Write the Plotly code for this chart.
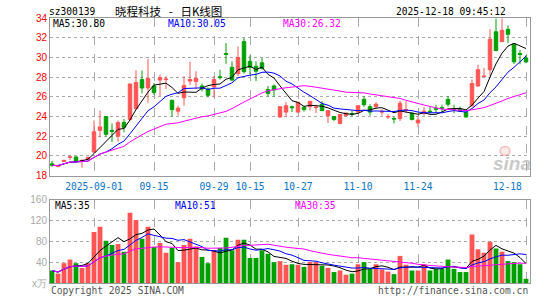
import pandas as pd
import plotly.graph_objects as go

# ---------------- data ----------------
dates = (
    ["2025-08-21", "2025-08-22", "2025-08-25", "2025-08-26", "2025-08-27", "2025-08-28", "2025-08-29"]
    + ["2025-09-%02d" % d for d in [1, 2, 3, 4, 5, 8, 9, 10, 11, 12, 15, 16, 17, 18, 19, 22, 23, 24, 25, 26, 29, 30]]
    + ["2025-10-%02d" % d for d in [9, 10, 13, 14, 15, 16, 17, 20, 21, 22, 23, 24, 27, 28, 29, 30, 31]]
    + ["2025-11-%02d" % d for d in [3, 4, 5, 6, 7, 10, 11, 12, 13, 14, 17, 18, 19, 20, 21, 24, 25, 26, 27, 28]]
    + ["2025-12-%02d" % d for d in [1, 2, 3, 4, 5, 8, 9, 10, 11, 12, 15, 16, 17, 18]]
)

opens = [19.2, 18.95, 19.45, 19.85, 19.9, 19.45, 19.65,
         20.4, 22.6, 24.0, 22.6, 22.0, 23.4, 23.7, 24.8, 27.75, 26.9,
         27.1, 27.7, 27.75, 25.65, 24.55, 25.9, 27.6, 27.55, 27.1, 26.8,
         27.0, 28.05, 30.4, 29.0, 28.35, 31.6, 29.6, 29.1, 29.45, 26.75,
         27.1, 23.95, 24.45, 25.0, 24.45, 24.95, 25.0, 24.9, 25.25, 24.1,
         24.0, 23.3, 24.1, 24.3, 24.45, 25.75, 25.0, 25.0, 24.45, 23.95,
         23.8, 23.8, 24.65, 24.35, 23.35, 24.3, 24.55, 24.8, 24.9, 25.75,
         24.8, 24.75, 24.45, 25.1, 27.1, 28.05, 28.75, 32.6, 31.6, 32.85,
         31.35, 30.4, 29.95]
highs = [19.5, 19.1, 19.6, 20.1, 19.95, 19.65, 19.95,
         23.6, 24.6, 24.0, 23.3, 23.6, 23.75, 27.35, 28.7, 28.67, 29.85,
         27.4, 28.25, 28.1, 25.7, 25.1, 28.1, 29.55, 28.6, 27.35, 26.95,
         28.1, 28.75, 31.45, 29.6, 31.1, 32.0, 30.2, 29.6, 29.95, 27.1,
         27.25, 25.0, 25.45, 25.1, 25.45, 25.0, 25.55, 25.2, 25.55, 24.6,
         24.05, 24.2, 24.4, 24.6, 25.1, 26.1, 25.25, 25.45, 24.75, 24.25,
         24.0, 25.6, 25.55, 24.4, 23.95, 24.95, 24.95, 25.2, 25.2, 26.1,
         25.2, 25.0, 24.5, 27.75, 29.25, 28.95, 32.85, 33.95, 33.95, 33.25,
         31.45, 30.75, 30.25]
lows = [18.9, 18.85, 19.4, 19.6, 19.35, 18.8, 19.55,
        20.3, 21.9, 21.95, 21.4, 21.45, 22.4, 23.6, 24.7, 26.35, 25.4,
        26.2, 26.1, 26.8, 24.0, 24.1, 25.1, 27.2, 26.8, 26.55, 25.95,
        25.95, 27.75, 29.35, 27.6, 28.1, 28.35, 28.3, 27.6, 28.75, 26.0,
        26.0, 23.9, 23.95, 24.45, 24.4, 24.5, 24.6, 24.35, 24.55, 23.35,
        23.55, 23.2, 24.0, 24.0, 24.4, 25.0, 24.1, 24.8, 24.1, 23.75,
        23.3, 23.55, 24.35, 23.6, 22.95, 24.1, 24.3, 24.35, 24.45, 25.0,
        24.35, 24.5, 23.9, 25.0, 27.0, 28.05, 28.1, 30.6, 31.6, 31.45,
        29.35, 29.3, 29.45]
closes = [19.05, 19.0, 19.55, 19.9, 19.45, 19.55, 19.85,
          22.45, 22.95, 22.2, 22.5, 23.4, 22.9, 27.3, 27.45, 26.9, 27.85,
          26.45, 27.95, 27.8, 24.7, 24.85, 27.15, 27.75, 27.85, 26.8, 26.15,
          27.75, 27.95, 30.3, 27.7, 30.0, 28.55, 29.0, 28.6, 28.9, 26.35,
          26.7, 25.0, 25.1, 24.9, 25.45, 24.7, 25.55, 24.95, 24.6, 24.6,
          23.7, 24.2, 24.35, 24.25, 25.1, 25.2, 24.45, 25.25, 24.5, 24.0,
          23.75, 25.35, 24.7, 23.7, 23.65, 24.55, 24.5, 24.75, 24.85, 25.25,
          24.75, 24.55, 23.95, 27.35, 28.75, 28.1, 31.85, 30.7, 32.75, 32.35,
          29.55, 30.3, 29.55]
volumes = [24, 18, 38, 45, 38, 29, 38,
           98, 108, 81, 73, 75, 60, 135, 121, 85, 108,
           69, 77, 58, 67, 40, 73, 85, 70, 50, 38,
           63, 67, 87, 63, 83, 83, 48, 48, 63, 56,
           40, 42, 35, 36, 35, 31, 40, 40, 33, 29,
           21, 24, 16, 18, 36, 40, 27, 36, 26, 22,
           17, 52, 35, 24, 24, 36, 24, 27, 27, 45,
           27, 21, 21, 93, 65, 58, 79, 66, 60, 42,
           40, 36, 8]

tick_dates = ["2025-09-01", "2025-09-15", "2025-09-29", "2025-10-15",
              "2025-10-27", "2025-11-10", "2025-11-24", "2025-12-18"]
tick_labels = ["2025-09-01", "09-15", "09-29", "10-15", "10-27", "11-10", "11-24", "12-18"]
price_ticks = [18, 20, 22, 24, 26, 28, 30, 32, 34]
vol_ticks = [0, 40, 80, 120, 160]
vol_tick_labels = ["x万", "40", "80", "120", "160"]

title_code = "sz300139"
title_name = "晓程科技\u00a0\u00a0\u00a0-\u00a0\u00a0\u00a0日K线图"
timestamp = "2025-12-18 09:45:12"
ma_price_labels = ["MA5:30.80", "MA10:30.05", "MA30:26.32"]
ma_vol_labels = ["MA5:35", "MA10:51", "MA30:35"]

# ---------------- derived ----------------
idx = list(range(len(dates)))
cs = pd.Series(closes)
vs = pd.Series(volumes)
ma_cols = ["#000000", "#0000ff", "#ff00ff"]
ma_n = [5, 10, 30]
RED = "#ff5555"
GREEN = "#00a000"
vol_colors = [RED if c >= o else GREEN for o, c in zip(opens, closes)]
tick_idx = [dates.index(d) for d in tick_dates]

MONO = "DejaVu Sans Mono"

fig = go.Figure()
fig.add_trace(go.Candlestick(
    x=idx, open=opens, high=highs, low=lows, close=closes,
    increasing=dict(line=dict(color=RED, width=1), fillcolor=RED),
    decreasing=dict(line=dict(color=GREEN, width=1), fillcolor=GREEN),
    whiskerwidth=0, xaxis="x", yaxis="y", hoverinfo="skip", showlegend=False))
for n, col in zip(ma_n, ma_cols):
    fig.add_trace(go.Scatter(x=idx, y=cs.rolling(n, min_periods=1).mean(), mode="lines",
                             line=dict(color=col, width=1), xaxis="x", yaxis="y",
                             hoverinfo="skip", showlegend=False))

fig.add_trace(go.Bar(x=idx, y=volumes, marker=dict(color=vol_colors, line=dict(width=0)),
                     width=0.8, xaxis="x2", yaxis="y2", hoverinfo="skip", showlegend=False))
for n, col in zip(ma_n, ma_cols):
    fig.add_trace(go.Scatter(x=idx, y=vs.rolling(n, min_periods=1).mean(), mode="lines",
                             line=dict(color=col, width=1), xaxis="x2", yaxis="y2",
                             hoverinfo="skip", showlegend=False))

xr = [-1 / 3, len(dates) - 1 + 2 / 3]
grid_common = dict(showgrid=True, gridcolor="#aaaaaa", gridwidth=1, zeroline=False,
                   showline=True, linecolor="#999999", linewidth=1, mirror=True)

fig.update_layout(
    width=545, height=300,
    margin=dict(l=50, r=15, t=18, b=14),
    paper_bgcolor="white", plot_bgcolor="white",
    boxgap=0.17,
    bargap=0.2,
    showlegend=False,
    xaxis=dict(domain=[0, 1], range=xr, anchor="y", tickvals=tick_idx,
               ticktext=tick_labels[:-1] + [""], ticks="", griddash="dash",
               ticklabelstandoff=2,
               tickfont=dict(family=MONO, size=9.6, color="#0a74c8"),
               rangeslider=dict(visible=False), **grid_common),
    yaxis=dict(domain=[0.405, 1.0], range=[18, 34], tickvals=price_ticks, ticks="",
               griddash="dot", tickfont=dict(family="Liberation Sans", size=10, color="#ff0000"),
               **grid_common),
    xaxis2=dict(domain=[0, 1], range=xr, anchor="y2", matches="x", tickvals=tick_idx,
                showticklabels=False, ticks="", griddash="dash", **grid_common),
    yaxis2=dict(domain=[0, 0.3146], range=[0, 160], tickvals=vol_ticks,
                ticktext=vol_tick_labels, ticks="", griddash="dot",
                tickfont=dict(family="Liberation Sans", size=10, color="#aaaaaa"),
                **grid_common),
)

def ann(text, x, y, xanchor="left", color="#000000", size=9.6, family=MONO, xref="paper", **kw):
    fig.add_annotation(text=text, x=x, y=y, xref=xref, yref="paper", xanchor=xanchor,
                       yanchor="middle", showarrow=False,
                       font=dict(family=family, size=size, color=color), **kw)

def px_x(p):
    return (p - 50) / 480.0

def px_y(p):
    return (286 - p) / 268.0

ann(title_code, px_x(47), px_y(11))
ann(title_name, px_x(113), px_y(10.5), family="Noto Sans CJK SC", size=11.5)
ann(timestamp, px_x(508), px_y(11), xanchor="right")

for lab, col, xp in zip(ma_price_labels, ma_cols, [51, 166, 281]):
    ann(lab, px_x(xp), px_y(23.5), color=col)
for lab, col, xp in zip(ma_vol_labels, ma_cols, [53, 173, 293]):
    ann(lab, px_x(xp), px_y(207.5), color=col)

# last date label kept inside the plot edge
ann(tick_labels[-1], tick_idx[-1], px_y(188), xanchor="right", color="#0a74c8",
    xref="x", xshift=-2)

ann("Copyright 2025 SINA.COM", px_x(49), px_y(293.5), color="#555555")
ann("http://finance.sina.com.cn", px_x(530), px_y(293.5), xanchor="right", color="#555555")

# sina watermark
fig.add_annotation(text="<b><i>sina</i></b>", x=px_x(512), y=px_y(165), xref="paper", yref="paper",
                   xanchor="center", yanchor="middle", showarrow=False,
                   font=dict(family="Liberation Sans", size=19, color="rgba(165,165,165,0.6)"))
fig.add_shape(type="circle", xref="paper", yref="paper",
              x0=px_x(500), x1=px_x(510), y0=px_y(157), y1=px_y(148),
              line=dict(color="rgba(230,90,90,0.35)", width=1.5),
              fillcolor="rgba(240,150,150,0.2)")

fig.write_html("out.html")
